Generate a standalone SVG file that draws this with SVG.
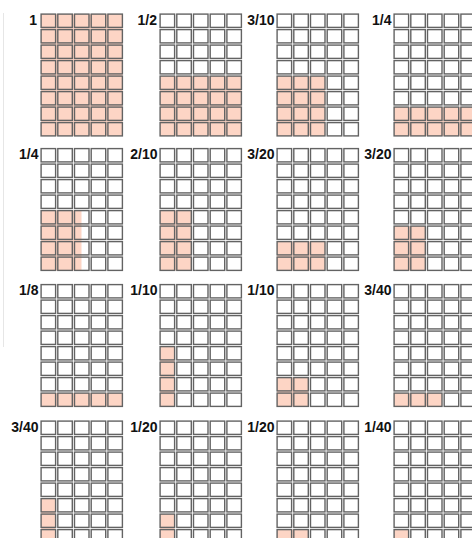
<svg xmlns="http://www.w3.org/2000/svg" xmlns:xlink="http://www.w3.org/1999/xlink" width="472" height="538" viewBox="0 0 472 538">
<style>
.lbl{font-family:"Liberation Sans",Arial,sans-serif;font-weight:bold;font-size:14px;fill:#111;text-anchor:end}
.on{fill:#fdd5c5}
.cell{fill:none;stroke:#636363;stroke-width:1.4}
</style>
<defs>
<g id="cells">
<g id="crow">
<rect class="cell" x="1.1" y="1.1" width="14.5" height="13.3"/>
<rect class="cell" x="17.8" y="1.1" width="14.5" height="13.3"/>
<rect class="cell" x="34.5" y="1.1" width="14.5" height="13.3"/>
<rect class="cell" x="51.2" y="1.1" width="14.5" height="13.3"/>
<rect class="cell" x="67.9" y="1.1" width="14.5" height="13.3"/>
</g>
<use xlink:href="#crow" href="#crow" y="15.5"/>
<use xlink:href="#crow" href="#crow" y="31"/>
<use xlink:href="#crow" href="#crow" y="46.5"/>
<use xlink:href="#crow" href="#crow" y="62"/>
<use xlink:href="#crow" href="#crow" y="77.5"/>
<use xlink:href="#crow" href="#crow" y="93"/>
<use xlink:href="#crow" href="#crow" y="108.5"/>
</g>
</defs>
<rect width="472" height="538" fill="#fff"/>
<line x1="3.5" y1="13" x2="3.5" y2="347" stroke="#e6e6e6" stroke-width="1"/>

<g id="g1"><text class="lbl" x="37" y="24.5">1</text><g transform="translate(40,13)"><rect class="on" x="1" y="1" width="81.5" height="122"/><use xlink:href="#cells" href="#cells"/></g></g>
<g id="g2"><text class="lbl" x="157" y="24.5">1/2</text><g transform="translate(159,13)"><rect class="on" x="1" y="63" width="81.5" height="60"/><use xlink:href="#cells" href="#cells"/></g></g>
<g id="g3"><text class="lbl" x="274.5" y="24.5">3/10</text><g transform="translate(276,13)"><rect class="on" x="1" y="63" width="48.1" height="60"/><use xlink:href="#cells" href="#cells"/></g></g>
<g id="g4"><text class="lbl" x="391.5" y="24.5">1/4</text><g transform="translate(393,13)"><rect class="on" x="1" y="94" width="81.5" height="29"/><use xlink:href="#cells" href="#cells"/></g></g>

<g id="g5"><text class="lbl" x="38.5" y="159">1/4</text><g transform="translate(40,147.5)"><rect class="on" x="1" y="63" width="40.5" height="60"/><use xlink:href="#cells" href="#cells"/></g></g>
<g id="g6"><text class="lbl" x="157.5" y="159">2/10</text><g transform="translate(159,147.5)"><rect class="on" x="1" y="63" width="31.4" height="60"/><use xlink:href="#cells" href="#cells"/></g></g>
<g id="g7"><text class="lbl" x="274.5" y="159">3/20</text><g transform="translate(276,147.5)"><rect class="on" x="1" y="94" width="48.1" height="29"/><use xlink:href="#cells" href="#cells"/></g></g>
<g id="g8"><text class="lbl" x="391.5" y="159">3/20</text><g transform="translate(393,147.5)"><rect class="on" x="1" y="78.5" width="31.4" height="44.5"/><use xlink:href="#cells" href="#cells"/></g></g>

<g id="g9"><text class="lbl" x="38.5" y="295">1/8</text><g transform="translate(40,283.5)"><rect class="on" x="1" y="109.5" width="81.5" height="13.5"/><use xlink:href="#cells" href="#cells"/></g></g>
<g id="g10"><text class="lbl" x="157.5" y="295">1/10</text><g transform="translate(159,283.5)"><rect class="on" x="1" y="63" width="14.7" height="60"/><use xlink:href="#cells" href="#cells"/></g></g>
<g id="g11"><text class="lbl" x="274.5" y="295">1/10</text><g transform="translate(276,283.5)"><rect class="on" x="1" y="94" width="31.4" height="29"/><use xlink:href="#cells" href="#cells"/></g></g>
<g id="g12"><text class="lbl" x="391.5" y="295">3/40</text><g transform="translate(393,283.5)"><rect class="on" x="1" y="109.5" width="48.1" height="13.5"/><use xlink:href="#cells" href="#cells"/></g></g>

<g id="g13"><text class="lbl" x="38.5" y="431.5">3/40</text><g transform="translate(40,420)"><rect class="on" x="1" y="78.5" width="14.7" height="44.5"/><use xlink:href="#cells" href="#cells"/></g></g>
<g id="g14"><text class="lbl" x="157.5" y="431.5">1/20</text><g transform="translate(159,420)"><rect class="on" x="1" y="94" width="14.7" height="29"/><use xlink:href="#cells" href="#cells"/></g></g>
<g id="g15"><text class="lbl" x="274.5" y="431.5">1/20</text><g transform="translate(276,420)"><rect class="on" x="1" y="109.5" width="31.4" height="13.5"/><use xlink:href="#cells" href="#cells"/></g></g>
<g id="g16"><text class="lbl" x="391.5" y="431.5">1/40</text><g transform="translate(393,420)"><rect class="on" x="1" y="109.5" width="14.7" height="13.5"/><use xlink:href="#cells" href="#cells"/></g></g>
<g id="connectors"/>
</svg>
